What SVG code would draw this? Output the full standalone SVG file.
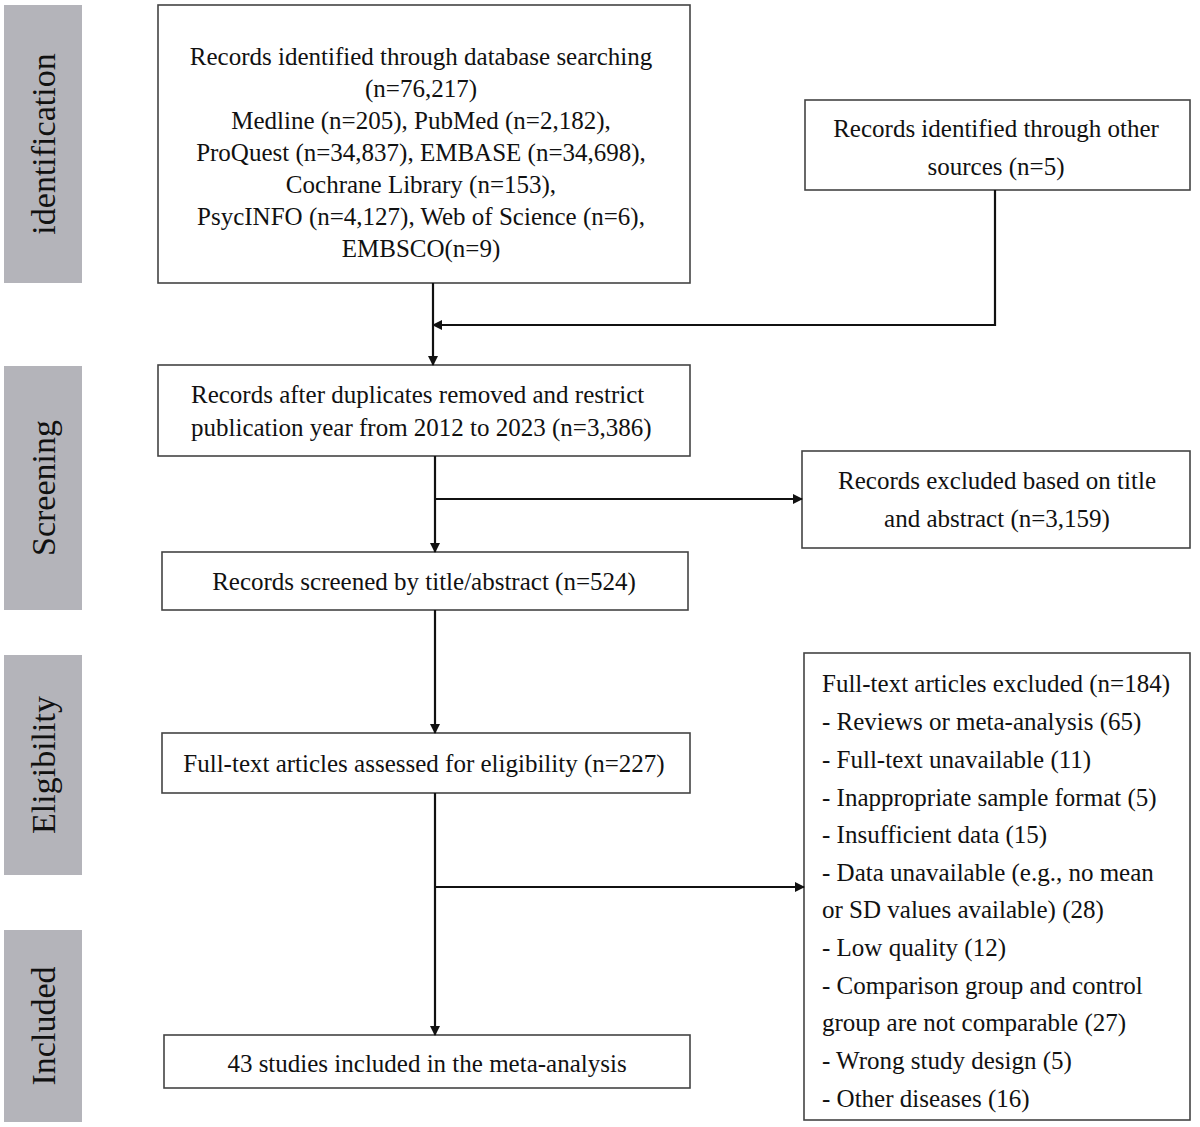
<svg xmlns="http://www.w3.org/2000/svg" width="1200" height="1127" viewBox="0 0 1200 1127">
<defs>
<marker id="ah" markerWidth="10" markerHeight="10" refX="9" refY="5" orient="auto" markerUnits="userSpaceOnUse"><path d="M0,0 L10,5 L0,10 z" fill="#111"/></marker>
<style>
.b{fill:#fff;stroke:#444;stroke-width:1.6}
.s{fill:#b4b4ba}
text{font-family:"Liberation Serif","Times New Roman",serif;font-size:25px;fill:#111}
.c{text-anchor:middle}
.st{font-size:34px}
.l{fill:none;stroke:#111;stroke-width:2.2}
</style>
</defs>
<g id="side">
<rect class="s" x="4" y="5" width="78" height="278"/>
<text class="st c" transform="translate(55,144) rotate(-90)">identification</text>
<rect class="s" x="4" y="366" width="78" height="244"/>
<text class="st c" transform="translate(55,488) rotate(-90)">Screening</text>
<rect class="s" x="4" y="655" width="78" height="220"/>
<text class="st c" transform="translate(55,765) rotate(-90)">Eligibility</text>
<rect class="s" x="4" y="930" width="78" height="192"/>
<text class="st c" transform="translate(55,1026) rotate(-90)">Included</text>
</g>
<g id="n1"><rect class="b" x="158" y="5" width="532" height="278"/>
<text class="c" x="421" y="65">Records identified through database searching</text>
<text class="c" x="421" y="97">(n=76,217)</text>
<text class="c" x="421" y="129">Medline (n=205), PubMed (n=2,182),</text>
<text class="c" x="421" y="161">ProQuest (n=34,837), EMBASE (n=34,698),</text>
<text class="c" x="421" y="193">Cochrane Library (n=153),</text>
<text class="c" x="421" y="225">PsycINFO (n=4,127), Web of Science (n=6),</text>
<text class="c" x="421" y="257">EMBSCO(n=9)</text></g>
<g id="n2"><rect class="b" x="805" y="100" width="385" height="90"/>
<text class="c" x="996" y="137">Records identified through other</text>
<text class="c" x="996" y="175">sources (n=5)</text></g>
<g id="n3"><rect class="b" x="158" y="365" width="532" height="91"/>
<text x="191" y="403">Records after duplicates removed and restrict</text>
<text x="191" y="436">publication year from 2012 to 2023 (n=3,386)</text></g>
<g id="n4"><rect class="b" x="802" y="451" width="388" height="97"/>
<text class="c" x="997" y="489">Records excluded based on title</text>
<text class="c" x="997" y="527">and abstract (n=3,159)</text></g>
<g id="n5"><rect class="b" x="162" y="552" width="526" height="58"/>
<text class="c" x="424" y="590">Records screened by title/abstract (n=524)</text></g>
<g id="n6"><rect class="b" x="162" y="733" width="528" height="60"/>
<text class="c" x="424" y="772">Full-text articles assessed for eligibility (n=227)</text></g>
<g id="n7"><rect class="b" x="804" y="653" width="386" height="467"/>
<text x="822" y="692">Full-text articles excluded (n=184)</text>
<text x="822" y="730">- Reviews or meta-analysis (65)</text>
<text x="822" y="768">- Full-text unavailable (11)</text>
<text x="822" y="806">- Inappropriate sample format (5)</text>
<text x="822" y="843">- Insufficient data (15)</text>
<text x="822" y="881">- Data unavailable (e.g., no mean</text>
<text x="822" y="918">or SD values available) (28)</text>
<text x="822" y="956">- Low quality (12)</text>
<text x="822" y="994">- Comparison group and control</text>
<text x="822" y="1031">group are not comparable (27)</text>
<text x="822" y="1069">- Wrong study design (5)</text>
<text x="822" y="1107">- Other diseases (16)</text></g>
<g id="n8"><rect class="b" x="164" y="1035" width="526" height="53"/>
<text class="c" x="427" y="1072">43 studies included in the meta-analysis</text></g>
<g id="connectors">
<path class="l" d="M433,283 V365" marker-end="url(#ah)"/>
<path class="l" d="M995,190 V325 H433" marker-end="url(#ah)"/>
<path class="l" d="M435,456 V552" marker-end="url(#ah)"/>
<path class="l" d="M435,499 H802" marker-end="url(#ah)"/>
<path class="l" d="M435,610 V733" marker-end="url(#ah)"/>
<path class="l" d="M435,793 V1035" marker-end="url(#ah)"/>
<path class="l" d="M435,887 H804" marker-end="url(#ah)"/>
</g>
</svg>
